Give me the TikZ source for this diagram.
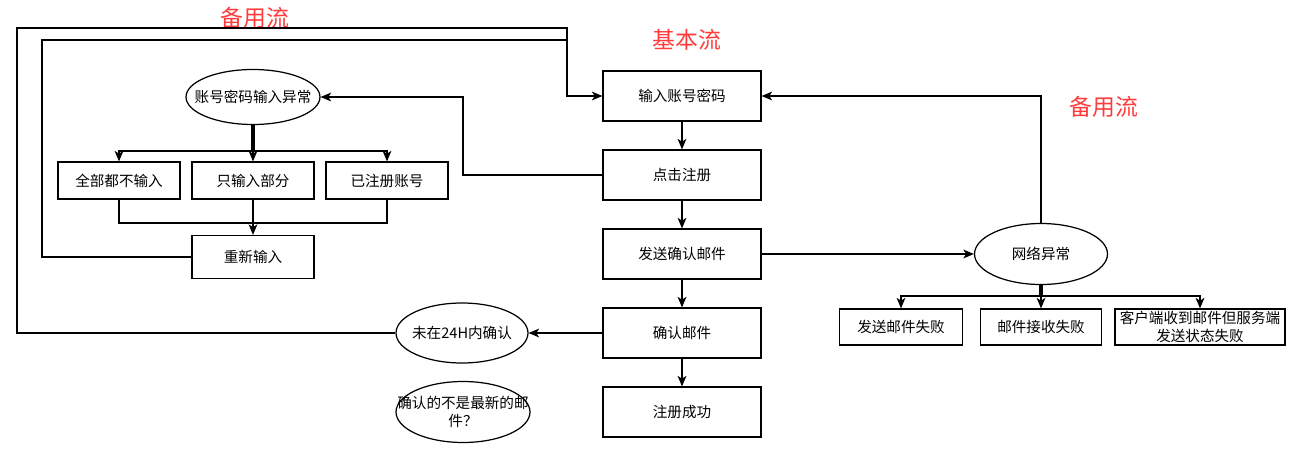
\documentclass[tikz,border=0pt]{standalone}
\usepackage{fontspec}
\newfontfamily\cjk{Noto Sans CJK SC}
\usetikzlibrary{arrows.meta,shapes.geometric}
\definecolor{lblred}{HTML}{FF3B3B}
\begin{document}
\begin{tikzpicture}[x=0.02cm,y=-0.02cm,
  line width=0.7pt,
  txt/.style={font=\cjk\fontsize{8.3}{10.5}\selectfont},
  box/.style={txt,draw,rectangle,inner sep=0pt,align=center},
  oval/.style={draw,ellipse,inner sep=0pt},
  arr/.style={-{Stealth[length=6pt,width=5pt,inset=1.6pt]}},
  lbl/.style={font=\cjk\fontsize{13}{15}\selectfont,text=lblred}]
\useasboundingbox[fill=white] (0,0) rectangle (1308,470);
% main flow
\node[box,minimum width=3.16cm,minimum height=1.0cm] (in1) at (682,96) {输入账号密码};
\node[box,minimum width=3.16cm,minimum height=1.0cm] (reg) at (682,175) {点击注册};
\node[box,minimum width=3.16cm,minimum height=1.0cm] (send) at (682,254) {发送确认邮件};
\node[box,minimum width=3.16cm,minimum height=1.0cm] (conf) at (682,333) {确认邮件};
\node[box,minimum width=3.16cm,minimum height=1.0cm] (ok) at (682,412) {注册成功};
% left alternative
\node[oval,minimum width=2.68cm,minimum height=1.1cm,label={[txt]center:账号密码输入异常}] (exA) at (253,97) {};
\node[box,minimum width=2.44cm,minimum height=0.74cm] (b1) at (119,180.5) {全部都不输入};
\node[box,minimum width=2.44cm,minimum height=0.74cm] (b2) at (253,180.5) {只输入部分};
\node[box,minimum width=2.44cm,minimum height=0.74cm] (b3) at (387,180.5) {已注册账号};
\node[box,minimum width=2.44cm,minimum height=0.86cm] (re) at (253,257) {重新输入};
% network alternative
\node[oval,minimum width=2.66cm,minimum height=1.22cm,label={[txt]center:网络异常}] (net) at (1041,254) {};
\node[box,minimum width=2.46cm,minimum height=0.72cm] (f1) at (901,327) {发送邮件失败};
\node[box,minimum width=2.42cm,minimum height=0.72cm] (f2) at (1041,327) {邮件接收失败};
\node[box,minimum width=3.4cm,minimum height=0.72cm] (f3) at (1200,327) {客户端收到邮件但服务端\\[-0.5pt]发送状态失败};
% confirmation ellipses
\node[oval,minimum width=2.64cm,minimum height=1.2cm,label={[txt]center:未在24H内确认}] (t24) at (462,333) {};
\node[oval,minimum width=2.68cm,minimum height=1.22cm,label={[txt,align=center]center:确认的不是最新的邮\\件？}] (q) at (463,412) {};
% labels
\node[lbl] (l1) at (255,18) {备用流};
\node[lbl] (l2) at (687,40) {基本流};
\node[lbl] (l3) at (1104,107) {备用流};
% helper coordinates
\coordinate (c1) at (463,175);
\coordinate (jA) at (253,151);
\coordinate (jB) at (253,223);
\coordinate (k1) at (42,40);
\coordinate (k2) at (567,40);
\coordinate (k3) at (17,28);
\coordinate (k4) at (567,28);
\coordinate (jN) at (1041,296);
% main connectors
\draw[arr] (in1) -- (reg);
\draw[arr] (reg) -- (send);
\draw[arr] (send) -- (conf);
\draw[arr] (conf) -- (ok);
\draw[arr] (send) -- (net);
\draw[arr] (net.north) |- (in1.east);
\draw[arr] (reg.west) -- (c1) |- (exA.east);
\draw[arr] (conf) -- (t24);
% left branches
\draw[arr] ([xshift=-1.5*0.02cm]exA.south) -- ([xshift=-1.5*0.02cm]jA) -| (b1.north);
\draw[arr] (exA.south) -- (b2.north);
\draw[arr] ([xshift=1.5*0.02cm]exA.south) -- ([xshift=1.5*0.02cm]jA) -| (b3.north);
\draw (b1.south) |- (jB);
\draw (b3.south) |- (jB);
\draw[arr] (b2.south) -- (re.north);
\draw[arr] (re.west) -| (k1) -- (k2) |- (in1.west);
\draw (t24.west) -| (k3) -- (k4) -- (k2);
% network branches
\draw[arr] ([xshift=-1.5*0.02cm]net.south) -- ([xshift=-1.5*0.02cm]jN) -| (f1.north);
\draw[arr] (net.south) -- (f2.north);
\draw[arr] ([xshift=1.5*0.02cm]net.south) -- ([xshift=1.5*0.02cm]jN) -| (f3.north);
\end{tikzpicture}
\end{document}
